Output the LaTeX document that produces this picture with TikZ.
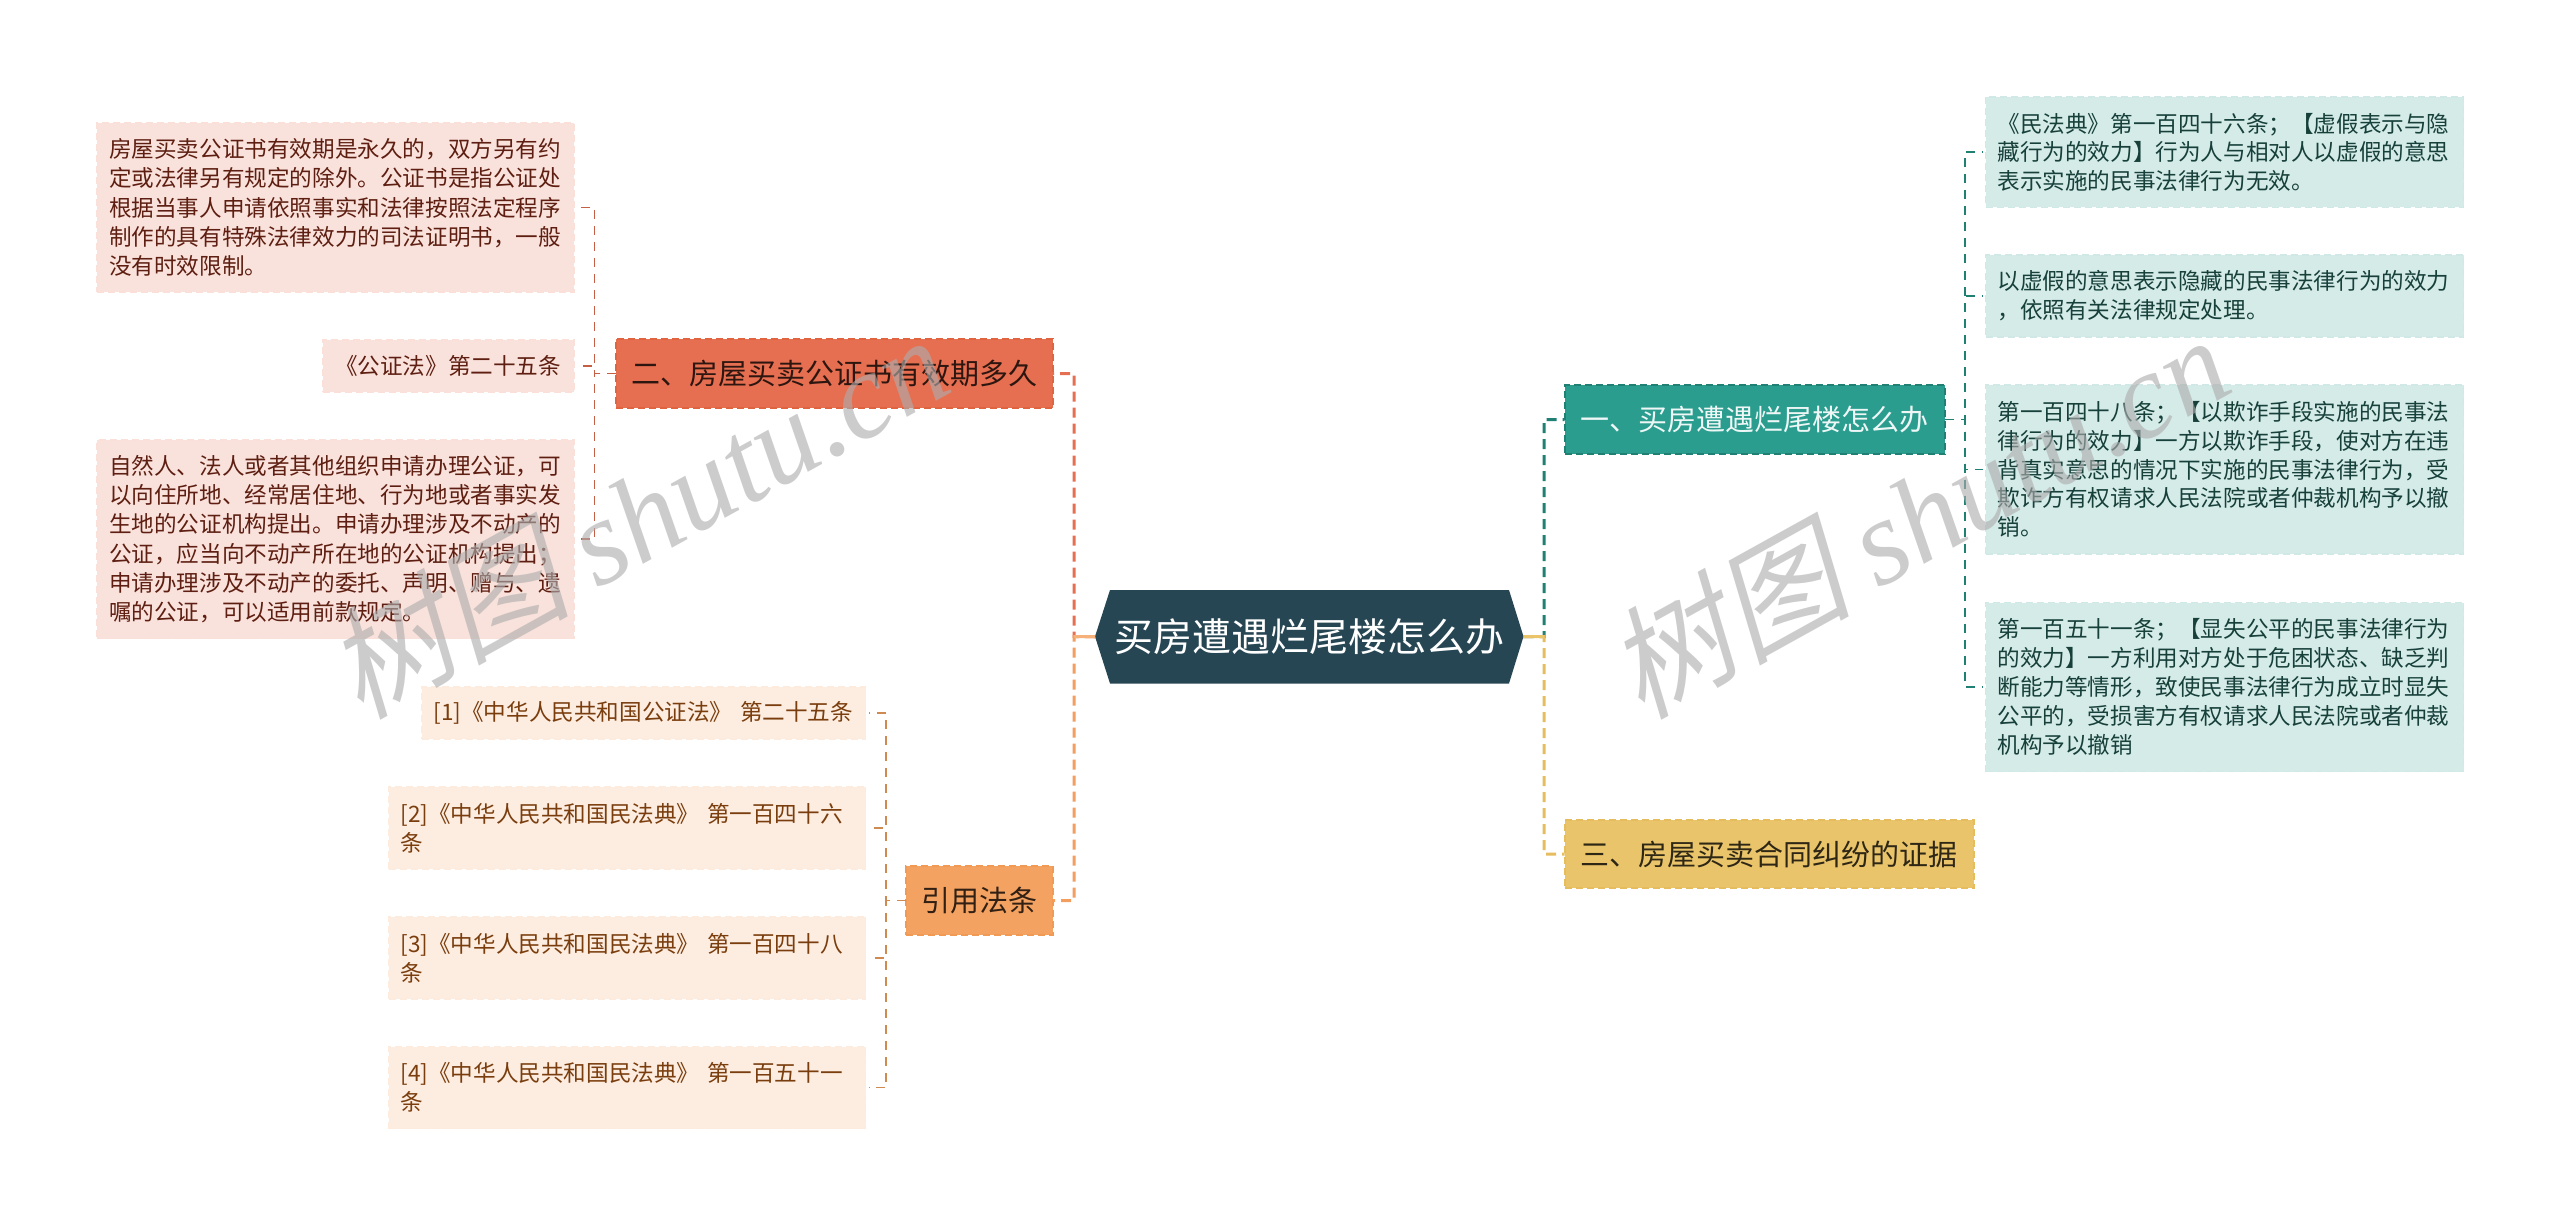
\documentclass[tikz,border=0pt]{standalone}
\usepackage{fontspec}
\setmainfont{Noto Sans CJK SC}
\newfontfamily\wmcjk[FakeSlant=0.22]{Noto Sans CJK SC}
\newfontfamily\wmlat{Liberation Serif}
\definecolor{cCenter}{HTML}{264653}
\definecolor{cRed}{HTML}{E76F51}
\definecolor{cRedD}{HTML}{E0643F}
\definecolor{cTeal}{HTML}{2A9D8F}
\definecolor{cTealD}{HTML}{1F8073}
\definecolor{cGold}{HTML}{E9C46A}
\definecolor{cGoldD}{HTML}{E6BD5E}
\definecolor{cOrange}{HTML}{F4A261}
\definecolor{cOrangeD}{HTML}{F09A55}
\definecolor{fRed}{HTML}{FAE2DC}
\definecolor{fTeal}{HTML}{D4EBE8}
\definecolor{fOrange}{HTML}{FDECE0}
\definecolor{tRed}{HTML}{5E1F12}
\definecolor{tTeal}{HTML}{17403B}
\definecolor{tOrange}{HTML}{7A3E0E}
\tikzset{
  boxbase/.style={anchor=north west, inner xsep=12pt, inner ysep=0pt, outer sep=0pt,
    align=left, line width=1.8pt, dash pattern=on 7pt off 4pt,
    font=\fontsize{22.6}{28.8}\selectfont},
  leafRed/.style={boxbase, fill=fRed, draw=fRed!98!cRed, text=tRed, font=\fontsize{22.6}{29.3}\selectfont},
  leafTeal/.style={boxbase, fill=fTeal, draw=fTeal!98!cTeal, text=tTeal},
  leafOrange/.style={boxbase, fill=fOrange, draw=fOrange!98!cOrange, text=tOrange},
  secbox/.style={anchor=north west, inner xsep=0pt, inner ysep=0pt, outer sep=0pt,
    align=center, line width=2pt, dash pattern=on 7pt off 4pt,
    font=\fontsize{29}{34}\selectfont},
  trunkline/.style={line width=3pt, dash pattern=on 10pt off 6pt},
  twig/.style={line width=1.8pt, dash pattern=on 9pt off 7pt, shorten >=3pt},
  stubline/.style={line width=3pt},
  wmark/.style={rotate=29, text=black!32, opacity=.62, inner sep=0pt, font=\fontsize{122}{122}\selectfont}
}
\begin{document}
\begin{tikzpicture}[x=1pt,y=1pt]
\useasboundingbox (0,0) rectangle (2560,-1225);
% centre hexagon
\fill[cCenter] (1095,-636.5) -- (1110,-590) -- (1509,-590) -- (1523.5,-636.5) -- (1509,-683.5) -- (1110,-683.5) -- cycle;
\node[anchor=north west, minimum width=428.5pt, minimum height=93.5pt, inner sep=0pt, outer sep=0pt,
  text=white, font=\fontsize{39}{44}\selectfont] (c) at (1095,-590) {买房遭遇烂尾楼怎么办};
% section nodes
\node[secbox, fill=cRed, draw=cRedD, text=black!80!cRed, minimum width=437pt, minimum height=69pt] (n2) at (616,-339) {二、房屋买卖公证书有效期多久};
\node[secbox, fill=cOrange, draw=cOrangeD, text=black!80!cOrange, minimum width=147pt, minimum height=69pt] (n4) at (906,-866) {引用法条};
\node[secbox, fill=cTeal, draw=cTealD, text=white!92!cTeal, minimum width=380.5pt, minimum height=69pt] (n1) at (1564.5,-385) {一、买房遭遇烂尾楼怎么办};
\node[secbox, fill=cGold, draw=cGoldD, text=black!80!cGold, minimum width=409.5pt, minimum height=68pt] (n3) at (1564.5,-820) {三、房屋买卖合同纠纷的证据};
% left leaves
\node[leafRed, text width=453pt, minimum height=169pt] (l1) at (97,-123) {房屋买卖公证书有效期是永久的，双方另有约\\定或法律另有规定的除外。公证书是指公证处\\根据当事人申请依照事实和法律按照法定程序\\制作的具有特殊法律效力的司法证明书，一般\\没有时效限制。};
\node[leafRed, text width=227pt, minimum height=52pt] (l2) at (323,-340) {《公证法》第二十五条};
\node[leafRed, text width=453pt, minimum height=198.5pt] (l3) at (97,-440) {自然人、法人或者其他组织申请办理公证，可\\以向住所地、经常居住地、行为地或者事实发\\生地的公证机构提出。申请办理涉及不动产的\\公证，应当向不动产所在地的公证机构提出；\\申请办理涉及不动产的委托、声明、赠与、遗\\嘱的公证，可以适用前款规定。};
% citation leaves
\node[leafOrange, text width=420pt, minimum height=52pt] (r1) at (421.5,-687) {[1]《中华人民共和国公证法》 第二十五条};
\node[leafOrange, text width=453pt, minimum height=82pt] (r2) at (388.5,-787) {[2]《中华人民共和国民法典》 第一百四十六\\条};
\node[leafOrange, text width=453pt, minimum height=82pt] (r3) at (388.5,-917) {[3]《中华人民共和国民法典》 第一百四十八\\条};
\node[leafOrange, text width=453pt, minimum height=82pt] (r4) at (388.5,-1046.5) {[4]《中华人民共和国民法典》 第一百五十一\\条};
% right leaves
\node[leafTeal, text width=454pt, minimum height=110.5pt] (b1) at (1985.5,-97) {《民法典》第一百四十六条；【虚假表示与隐\\藏行为的效力】行为人与相对人以虚假的意思\\表示实施的民事法律行为无效。};
\node[leafTeal, text width=454pt, minimum height=82pt] (b2) at (1985.5,-255) {以虚假的意思表示隐藏的民事法律行为的效力\\，依照有关法律规定处理。};
\node[leafTeal, text width=454pt, minimum height=169pt] (b3) at (1985.5,-385) {第一百四十八条；【以欺诈手段实施的民事法\\律行为的效力】一方以欺诈手段，使对方在违\\背真实意思的情况下实施的民事法律行为，受\\欺诈方有权请求人民法院或者仲裁机构予以撤\\销。};
\node[leafTeal, text width=454pt, minimum height=169pt] (b4) at (1985.5,-602.5) {第一百五十一条；【显失公平的民事法律行为\\的效力】一方利用对方处于危困状态、缺乏判\\断能力等情形，致使民事法律行为成立时显失\\公平的，受损害方有权请求人民法院或者仲裁\\机构予以撤销};
% junction columns
\coordinate (tL) at (1074,-636.5);
\coordinate (tR) at (1544,-636.5);
\coordinate (jL) at (594.5,-373.5);
\coordinate (jO) at (886,-900.5);
\coordinate (jT) at (1965,-419.5);
% trunks
\draw[trunkline, cRed] (c.west) -- (tL) |- (n2.east);
\draw[trunkline, cOrange!90!cRed] (c.west) -- (tL) |- (n4.east);
\draw[trunkline, cTealD] (c.east) -- (tR) |- (n1.west);
\draw[trunkline, cGoldD] (c.east) -- (tR) |- (n3.west);
\draw[stubline, cOrange!85!white] (c.west) -- (tL);
\draw[stubline, cGold] (c.east) -- (tR);
% twigs
\foreach \k in {l1,l2,l3} \draw[twig, cRed!85!black] (n2.west) -- (jL) |- (\k.east);
\foreach \k in {r1,r2,r3,r4} \draw[twig, cOrange!85!black] (n4.west) -- (jO) |- (\k.east);
\foreach \k in {b1,b2,b3,b4} \draw[twig, cTealD] (n1.east) -- (jT) |- (\k.west);
% watermarks
\node[wmark] (w1) at (636,-515) {{\wmcjk 树图} {\wmlat\itshape shutu.cn}};
\node[wmark] (w2) at (1917,-515) {{\wmcjk 树图} {\wmlat\itshape shutu.cn}};
\end{tikzpicture}
\end{document}
